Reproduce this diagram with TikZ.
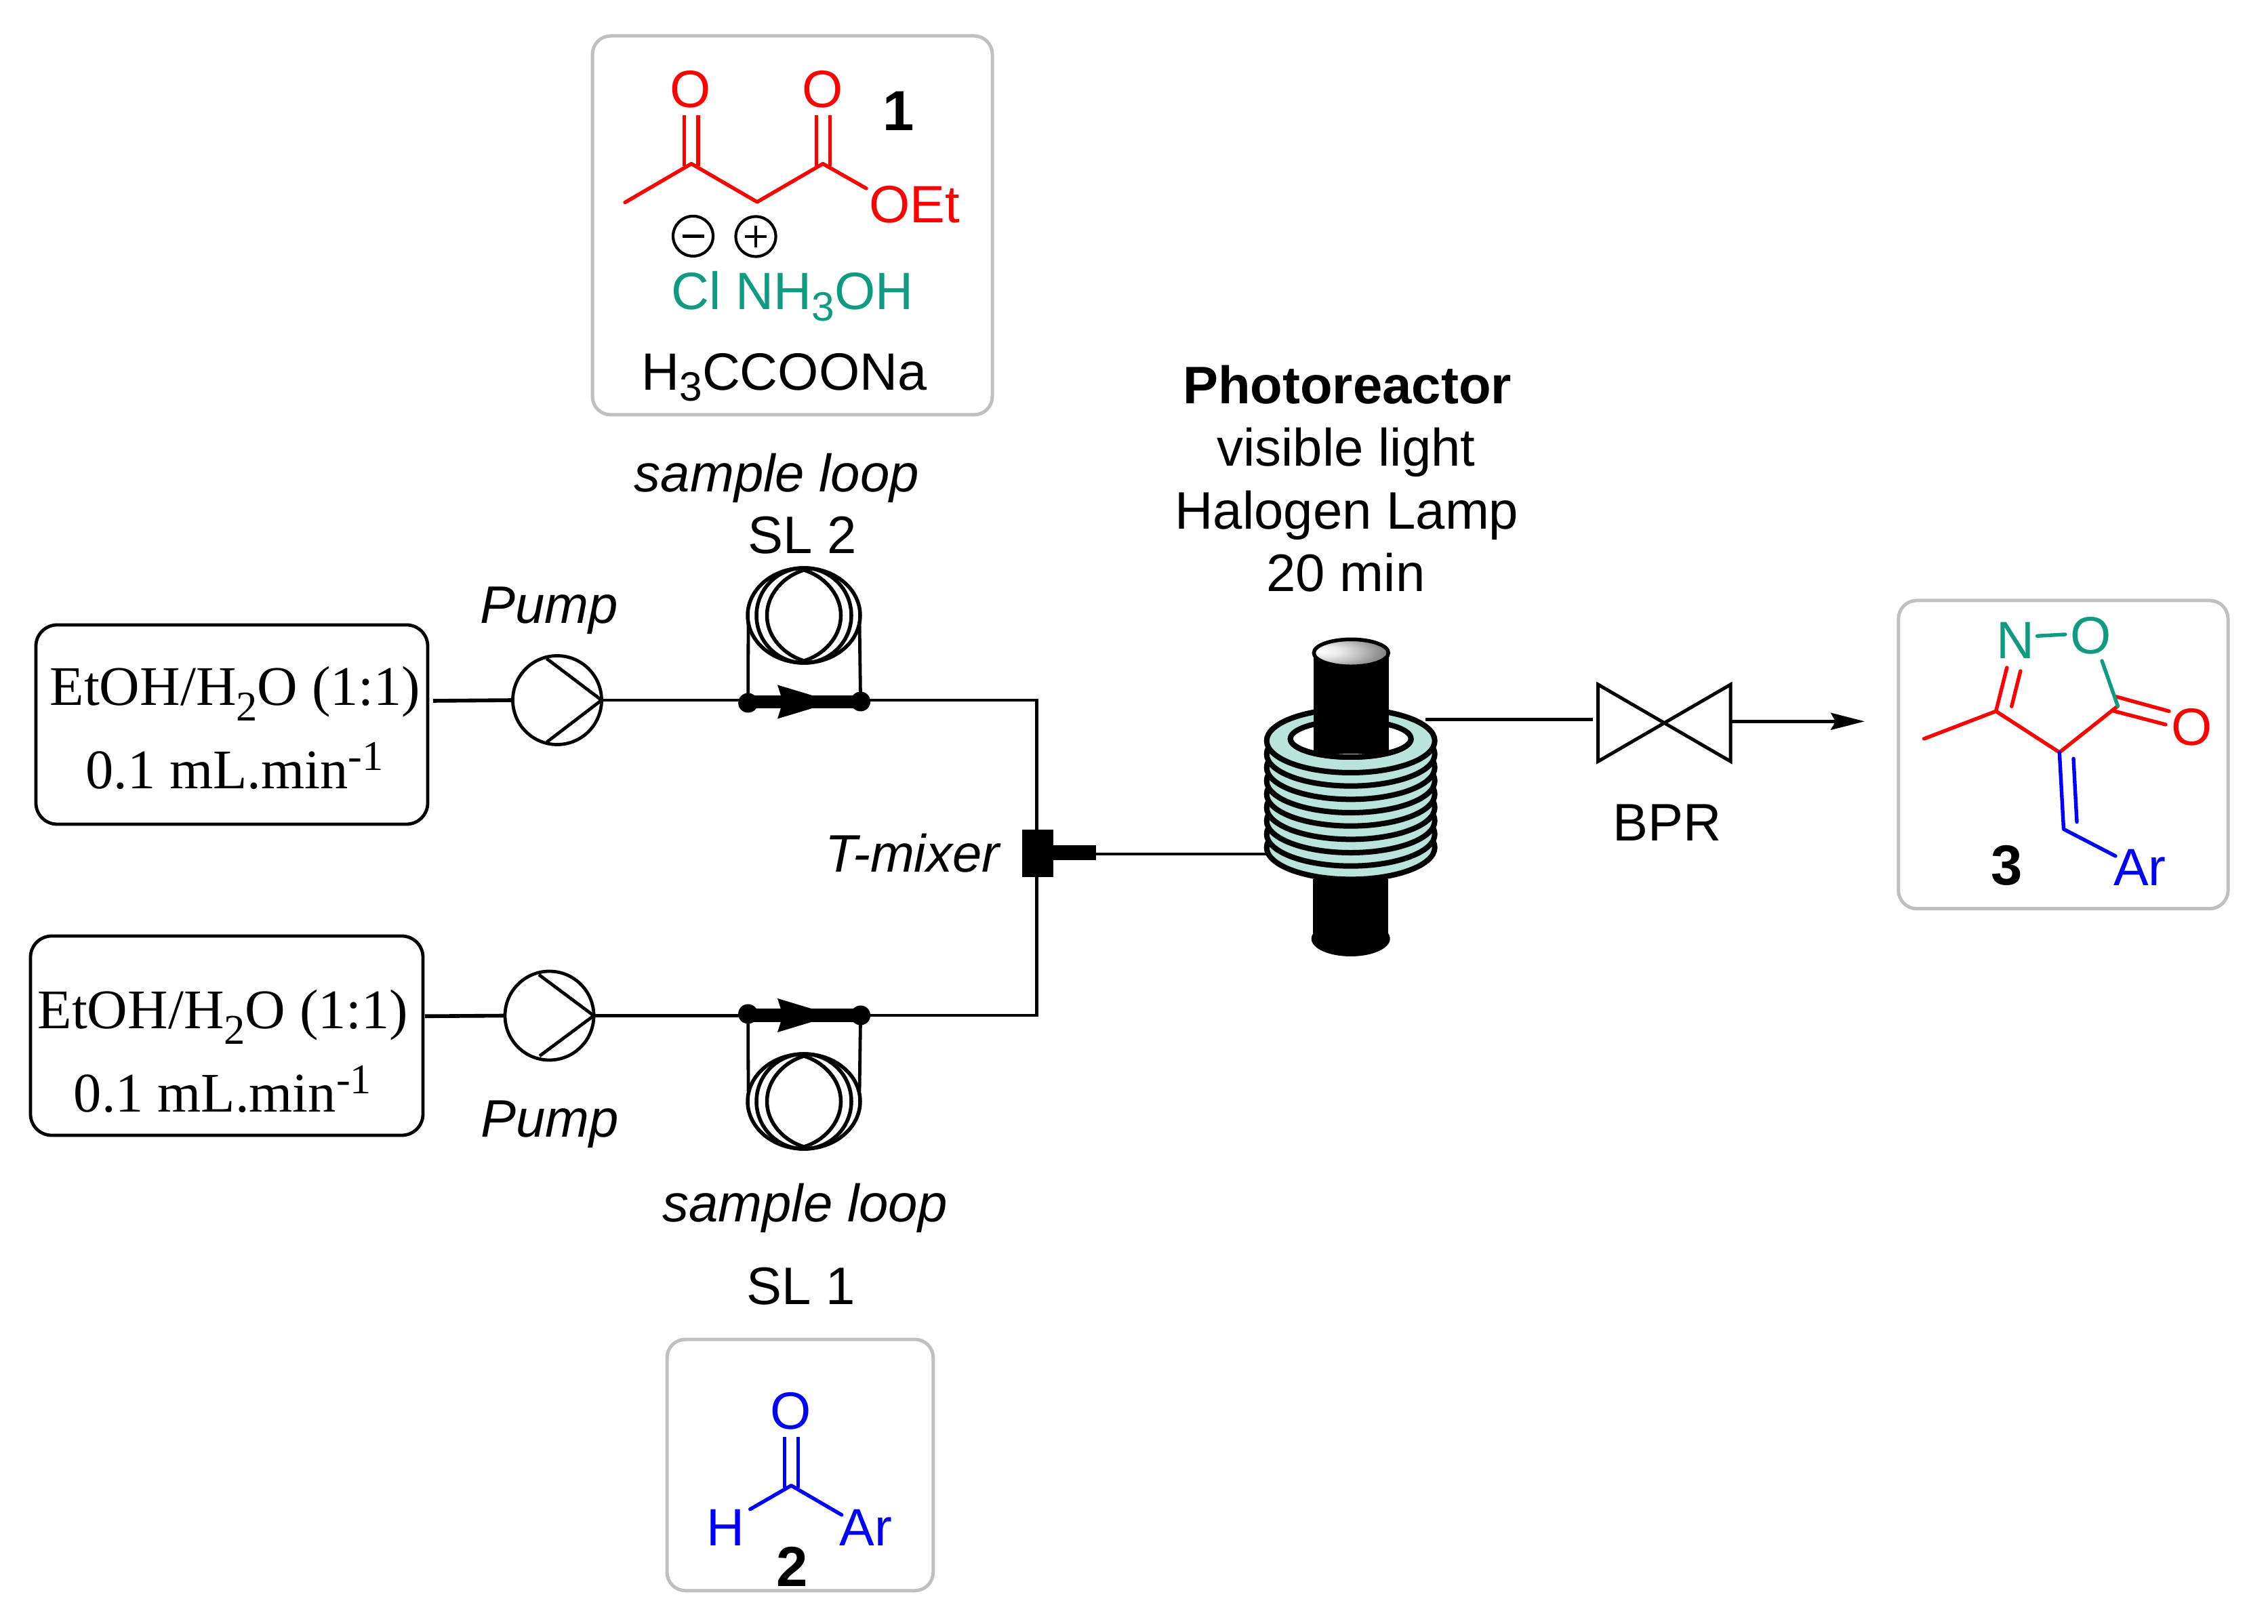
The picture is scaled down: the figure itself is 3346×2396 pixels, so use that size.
\documentclass[tikz,border=0pt]{standalone}
\usepackage{fontspec}
\usetikzlibrary{arrows.meta,shapes.geometric}
\setmainfont{Liberation Sans}
\newfontfamily\srfont{Liberation Serif}
\definecolor{grn}{HTML}{0F9B82}
\definecolor{ringc}{HTML}{B9E3DB}
\definecolor{boxgrey}{HTML}{BFBFBF}
\newcommand{\px}[1]{#1*0.24pt}
\newcommand{\fsans}{\fontsize{18.7}{22}\selectfont}
\newcommand{\fchem}{\fontsize{18.6}{22}\selectfont}
\newcommand{\fser}{\srfont\fontsize{19.8}{23}\selectfont}
\newcommand{\chsub}[1]{\raisebox{-4pt}{\fontsize{14.5}{16}\selectfont #1}}
\newcommand{\srsub}[1]{\raisebox{-5.5pt}{\fontsize{15}{16}\selectfont #1}}
\newcommand{\srsup}[1]{\raisebox{6.7pt}{\fontsize{15}{16}\selectfont #1}}
\pgfdeclareradialshading{lampshade}{\pgfpoint{-22bp}{4bp}}{color(0bp)=(white);color(10bp)=(white!92!black);color(20bp)=(white!74!black);color(35bp)=(white!44!black);color(50bp)=(white!14!black)}
\tikzset{
  flow/.style={line width=\px{4.8}},
  inlet/.style={line width=\px{5.6}},
  coilline/.style={line width=\px{5.5}},
  greybox/.style={draw=boxgrey,line width=\px{5},rounded corners=6.5pt,inner sep=0pt,outer sep=0pt},
  srcbox/.style={draw=black,line width=\px{4.8},rounded corners=7.5pt,inner sep=0pt,outer sep=0pt,minimum height=\px{294}},
  pumpc/.style={draw=black,circle,line width=\px{4.8},inner sep=0pt,outer sep=0pt,minimum size=\px{131}},
  dotn/.style={fill=black,circle,inner sep=0pt,outer sep=0pt,minimum size=\px{29}},
  lab/.style={inner sep=0pt,outer sep=0pt,anchor=base,font=\fsans},
  chemr/.style={inner sep=0pt,outer sep=0pt,font=\fchem,text=red},
  chemb/.style={inner sep=0pt,outer sep=0pt,font=\fchem,text=blue},
  chemg/.style={inner sep=0pt,outer sep=0pt,font=\fchem,text=grn},
  numb/.style={inner sep=0pt,outer sep=0pt,anchor=base,font=\fontsize{20}{23}\selectfont\bfseries},
  srctext/.style={inner sep=0pt,outer sep=0pt,anchor=base,font=\fser},
  bond/.style={line width=\px{5.4},line cap=round,line join=round},
  chg/.style={draw=black,circle,line width=\px{4.2},inner sep=0pt,outer sep=0pt,minimum size=\px{59}},
  ringe/.style={draw=black,fill=ringc,line width=\px{8}}
}
% lens-shaped winding
\newcommand{\lens}[4]{\draw[coilline] (#1,#2-#4) .. controls (#1+.5*#3,#2-#4+.12*#4) and (#1+#3,#2-.5*#4) .. (#1+#3,#2) .. controls (#1+#3,#2+.5*#4) and (#1+.5*#3,#2+#4-.12*#4) .. (#1,#2+#4) .. controls (#1-.5*#3,#2+#4-.12*#4) and (#1-#3,#2+.5*#4) .. (#1-#3,#2) .. controls (#1-#3,#2-.5*#4) and (#1-.5*#3,#2-#4+.12*#4) .. cycle;}
\newcommand{\coilset}[2]{\draw[coilline] (#1,#2) ellipse [x radius=83,y radius=70];\draw[coilline] (#1,#2) ellipse [x radius=70,y radius=70];\lens{#1}{#2}{54.5}{67}}
\newcommand{\loophead}[1]{\fill (1147,#1-25) -- (1200,#1-9) -- (1230,#1) -- (1200,#1+9) -- (1147,#1+25) -- (1155,#1) -- cycle;}
\begin{document}
\begin{tikzpicture}[x=0.24pt,y=-0.24pt]
\useasboundingbox (0,0) rectangle (3346,2396);
\fill[white] (0,0) rectangle (3346,2396);

% ---------- grey boxes
\node[greybox,minimum width=\px{590},minimum height=\px{559}] (box1) at (1169,332.5) {};
\node[greybox,minimum width=\px{392.7},minimum height=\px{370.7}] (box2) at (1180.4,2161.4) {};
\node[greybox,minimum width=\px{486.3},minimum height=\px{454.7}] (box3) at (3043.9,1113.3) {};

% ---------- molecule 1
\node[chemr] (m1oa) at (1019,131.4) {O};
\node[chemr] (m1ob) at (1214,131.4) {O};
\node[chemr,anchor=base] (m1oet) at (1349,328.5) {OEt};
\coordinate (a1) at (922,298.7);
\coordinate (a2) at (1020,241.6);
\coordinate (a3) at (1117,298);
\coordinate (a4) at (1214,241.6);
\coordinate (a5) at (1278,278);
\draw[bond,red] (a1) -- (a2) -- (a3) -- (a4) -- (a5);
\draw[bond,red,line cap=butt] (1009.5,169.7) -- (1009.5,245) (1030,169.7) -- (1030,245);
\draw[bond,red,line cap=butt] (1204.5,169.7) -- (1204.5,245) (1224.5,169.7) -- (1224.5,245);
\node[numb] (n1) at (1326,192.6) {1};
\node[chg] (minus) at (1022.5,348.4) {};
\node[chg] (plus) at (1115,349) {};
\draw[bond,line cap=butt,line width=\px{4.5}] (minus.center) ++(-16,0) -- ++(32,0);
\draw[bond,line cap=butt,line width=\px{4.5}] (plus.center) ++(-16,0) -- ++(32,0) (plus.center) ++(0,-16) -- ++(0,32);
\node[chemg,anchor=base] (salt) at (1169,456.7) {Cl NH\chsub{3}OH};
\node[inner sep=0pt,outer sep=0pt,anchor=base,font=\fchem] (acet) at (1157,575.3) {H\chsub{3}CCOONa};

% ---------- molecule 2
\node[chemb] (m2o) at (1166.7,2081.7) {O};
\node[chemb,anchor=base] (m2h) at (1070,2280) {H};
\node[chemb,anchor=base] (m2ar) at (1277.5,2280) {Ar};
\coordinate (b1) at (1167.3,2191.7);
\coordinate (b2) at (1106.7,2226.7);
\coordinate (b3) at (1241.7,2235);
\draw[bond,blue] (b2) -- (b1) -- (b3);
\draw[bond,blue,line cap=butt] (1157.3,2120) -- (1157.3,2195) (1177.3,2120) -- (1177.3,2195);
\node[numb] (n2) at (1169,2340.7) {2};

% ---------- molecule 3
\node[chemg,anchor=base] (m3n) at (2973,971.7) {N};
\node[chemg] (m3og) at (3084.8,938.3) {O};
\node[chemr] (m3or) at (3233.5,1072.7) {O};
\node[chemb,anchor=base] (m3ar) at (3157,1306.7) {Ar};
\coordinate (c1) at (2838.5,1090);
\coordinate (c2) at (2944.6,1049.3);
\coordinate (c3) at (3038.3,1110);
\coordinate (c4) at (3124.4,1041.7);
\coordinate (c5) at (3044.5,1223.3);
\coordinate (c6) at (3121,1263);
\draw[bond,red] (c1) -- (c2) -- (c3) -- (c4);
\draw[bond,red] (c2) -- (2960.8,985);
\draw[bond,red] (2967.7,1042.3) -- (2980.8,990);
\draw[bond,red] (3119.9,1027.3) -- (3200,1049.3);
\draw[bond,red] (3115.7,1048.3) -- (3195,1069);
\draw[bond,grn] (3005.5,938.3) -- (3046.9,936);
\draw[bond,grn] (3101,975) -- (c4);
\draw[bond,blue] (c3) -- (c5) -- (c6);
\draw[bond,blue] (3059,1119.3) -- (3064,1212.7);
\node[numb] (n3) at (2960.8,1306) {3};

% ---------- sources
\node[srcbox,minimum width=\px{578}] (src1) at (342,1069) {};
\node[srcbox,minimum width=\px{579}] (src2) at (334.5,1528) {};
\node[srctext] (s1a) at (347,1041) {EtOH/H\srsub{2}O (1:1)};
\node[srctext] (s1b) at (346,1164) {0.1 mL.min\srsup{-1}};
\node[srctext] (s2a) at (329,1517.7) {EtOH/H\srsub{2}O (1:1)};
\node[srctext] (s2b) at (328.5,1641) {0.1 mL.min\srsup{-1}};

% ---------- pumps
\node[pumpc] (pump1) at (822,1033) {};
\node[pumpc] (pump2) at (810.5,1498.5) {};
\draw[flow,line join=round] (806.5,971.7) -- (pump1.east) -- (806.5,1095);
\draw[flow,line join=round] (795,1438) -- (pump2.east) -- (796,1558);
\node[lab,font=\fsans\itshape] (p1l) at (810,919.3) {Pump};
\node[lab,font=\fsans\itshape] (p2l) at (811,1678) {Pump};

% ---------- sample loops
\node[dotn] (d1l) at (1103.6,1037) {};
\node[dotn] (d1r) at (1269.6,1035) {};
\node[dotn] (d2l) at (1103.6,1496) {};
\node[dotn] (d2r) at (1269.6,1498) {};
\draw[line width=\px{19.5}] (1103.6,1035.5) -- (1269.6,1035.5);
\draw[line width=\px{19.5}] (1103.6,1498) -- (1269.6,1498);
\loophead{1035.5}
\loophead{1498}
\draw[flow] (d1l.center) -- (1104,917);
\draw[flow] (d1r.center) -- (1268,917);
\draw[flow] (d2l.center) -- (1104,1610);
\draw[flow] (d2r.center) -- (1268,1610);
\coilset{1186}{908}
\coilset{1186}{1625}
\node[lab,font=\fsans\itshape] (sl2t) at (1146,726) {sample loop};
\node[lab] (sl2) at (1184,816.7) {SL 2};
\node[lab,font=\fsans\itshape] (sl1t) at (1187.5,1803) {sample loop};
\node[lab] (sl1) at (1182,1925) {SL 1};

% ---------- T mixer and connectors
\coordinate (tee1) at (1529.5,1033);
\coordinate (tee2) at (1529.5,1498);
\node[fill=black,inner sep=0pt,outer sep=0pt,minimum width=\px{46},minimum height=\px{70}] (mixer) at (1531,1259) {};
\node[fill=black,inner sep=0pt,outer sep=0pt,minimum width=\px{63},minimum height=\px{22}] (stub) at (1585.5,1258.5) {};
\node[lab,font=\fsans\itshape] (tm) at (1346,1287) {T-mixer};
\coordinate (in1) at (639,1034);
\coordinate (in2) at (627,1499.3);
\draw[inlet] (in1) -- (pump1.west);
\draw[inlet] (in2) -- (pump2.west);
\draw[flow] (pump1.east) -- (d1l.center |- pump1.east);
\draw[flow] (pump2.east) -- (d2l.center |- pump2.east);
\draw[flow,line join=miter] (d1r.center |- tee1) -- (tee1) -- (mixer.north -| tee1);
\draw[flow,line join=miter] (d2r.center |- tee2) -- (tee2) -- (mixer.south -| tee2);

% ---------- photoreactor
\coordinate (rin) at (1868,1260);
\coordinate (rout) at (2103,1061.7);
\draw[flow] (stub.east |- rin) -- (rin);
\draw[flow] (rout) -- (2350,1061.7);
\fill (1937,1297) rectangle (2048,1385);
\fill (1992.7,1385) ellipse [x radius=58,y radius=26];
\foreach \i in {8,7,...,0}{
  \draw[ringe] (1992.7,1093+19.67*\i) ellipse [x radius=124,y radius=47];
}
\draw[line width=\px{8},fill=white] (1992.7,1090) ellipse [x radius=89,y radius=27];
\fill (1938,963) rectangle (2049,1112);
\begin{scope}
  \clip (1850,1090) rectangle (2130,1140);
  \draw[line width=\px{8}] (1992.7,1090) ellipse [x radius=89,y radius=27];
\end{scope}
\shade[shading=lampshade,draw=black,line width=\px{5.5}] (1993.3,963.3) ellipse [x radius=55,y radius=20];
\node[lab,font=\fsans\bfseries] (ph1) at (1987.6,596) {Photoreactor};
\node[lab] (ph2) at (1986,688) {visible light};
\node[lab] (ph3) at (1987,780.7) {Halogen Lamp};
\node[lab] (ph4) at (1985.5,872.7) {20 min};

% ---------- BPR
\coordinate (bl) at (2357.7,1066.7);
\coordinate (br) at (2553,1066.7);
\coordinate (arrowtip) at (2751,1064.3);
\draw[line width=\px{5},line join=miter] (2357.7,1010) -- (2553,1123.3) -- (2553,1010) -- (2357.7,1123.3) -- cycle;
\draw[flow,-{Stealth[length=12pt,width=6pt,inset=1.7pt]}] (br |- arrowtip) -- (arrowtip);
\node[lab] (bpr) at (2460,1240.7) {BPR};
\end{tikzpicture}
\end{document}
